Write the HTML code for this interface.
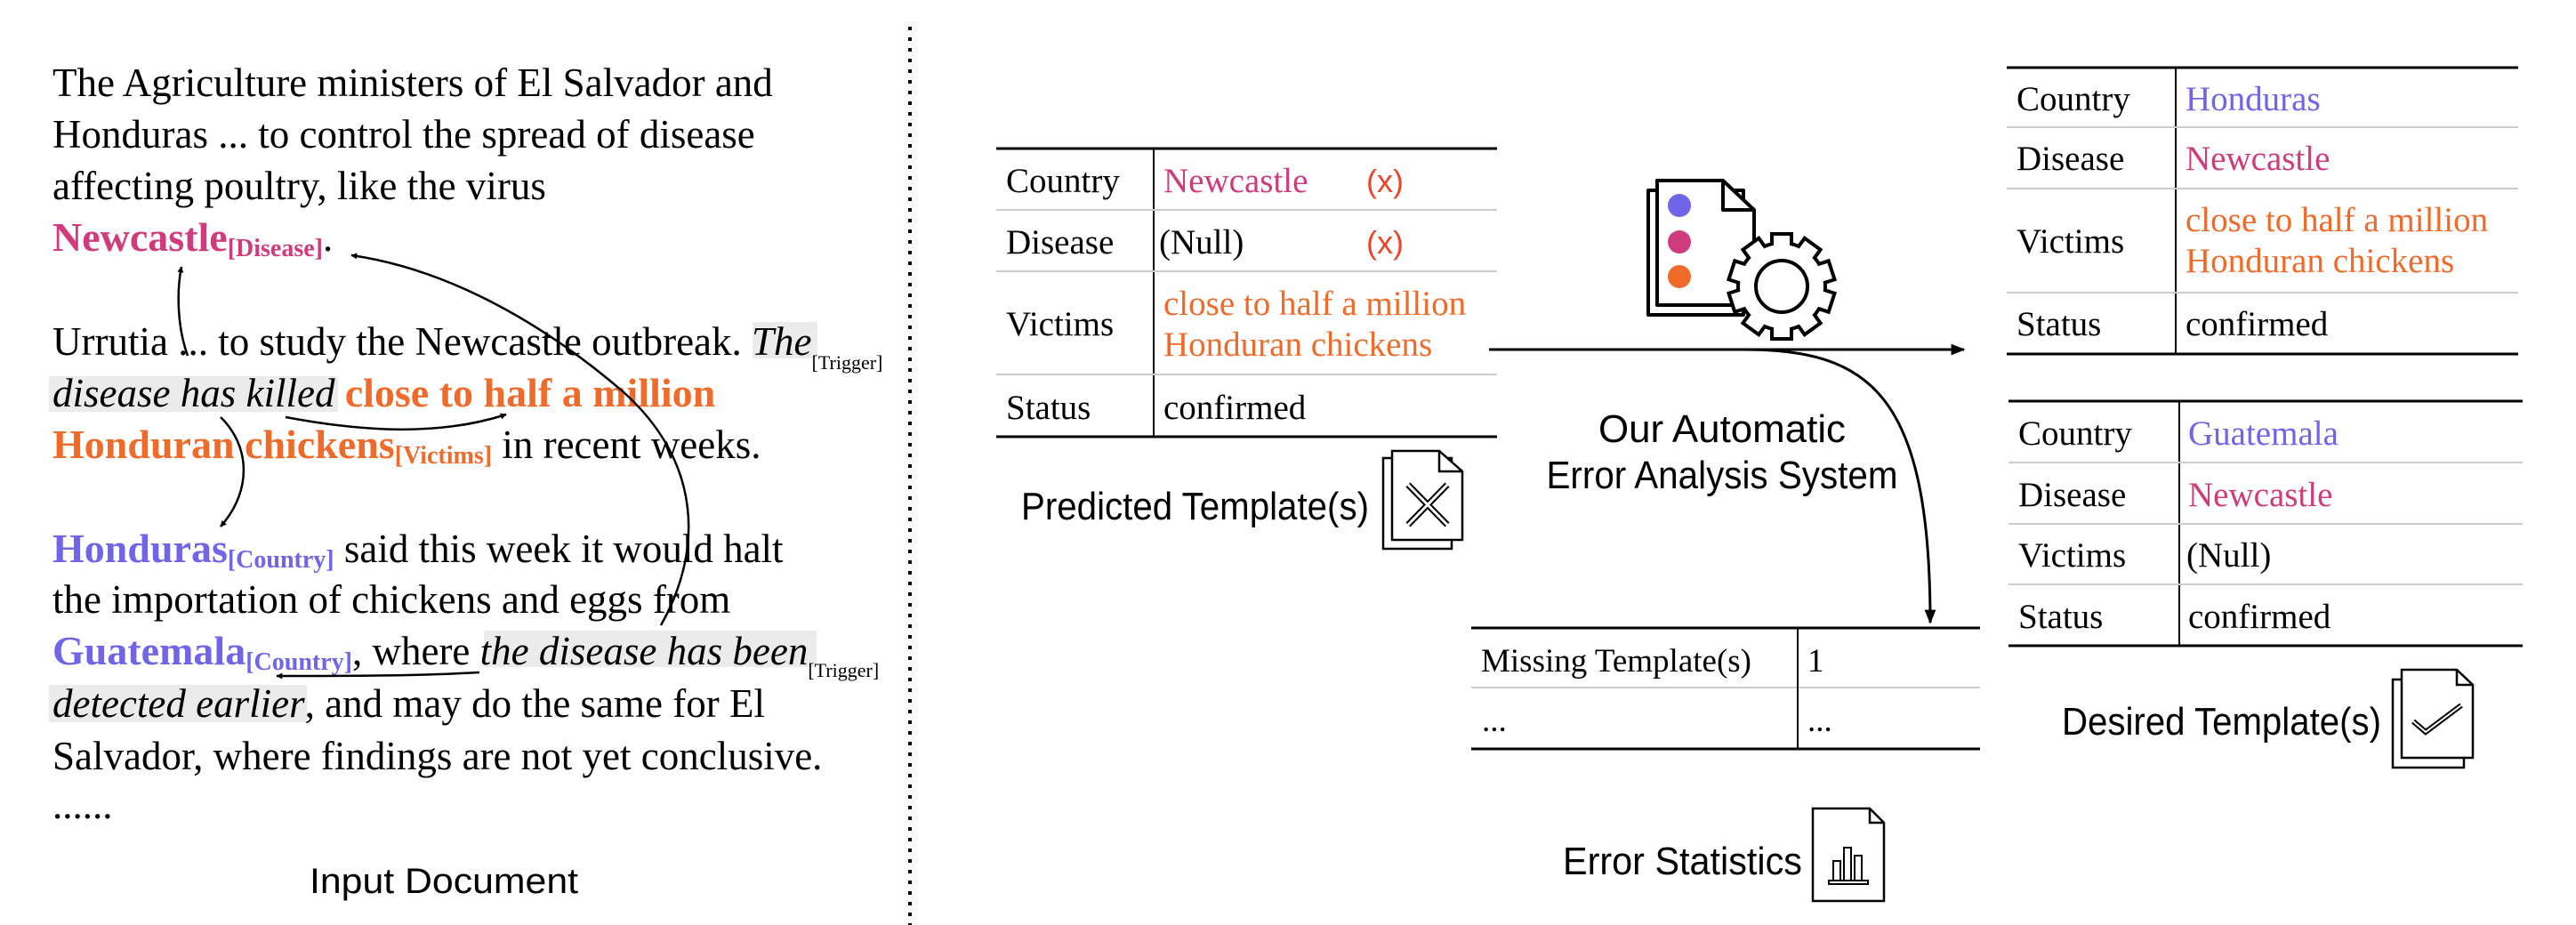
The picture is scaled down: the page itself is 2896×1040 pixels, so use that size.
<!DOCTYPE html>
<html><head><meta charset="utf-8"><style>
html,body{margin:0;padding:0;background:#fff;}
svg{display:block;}
.t{font-family:"Liberation Serif",serif;}
.s{font-family:"Liberation Sans",sans-serif;}
</style></head><body>
<svg width="2896" height="1040" viewBox="0 0 2896 1040" xmlns="http://www.w3.org/2000/svg">
<defs>
<marker id="ah" viewBox="0 0 10 10" refX="9" refY="5" markerWidth="7" markerHeight="7" orient="auto" markerUnits="userSpaceOnUse"><path d="M0,0 L10,5 L0,10 z" fill="#000"/></marker>
<marker id="ah2" viewBox="0 0 10 10" refX="9" refY="5" markerWidth="16" markerHeight="16" orient="auto" markerUnits="userSpaceOnUse"><path d="M0,1 L10,5 L0,9 z" fill="#000"/></marker>
</defs>

<g fill="#ebebeb">
<rect x="846" y="362" width="73" height="41"/>
<rect x="55" y="423" width="325" height="40"/>
<rect x="544" y="709" width="374" height="41"/>
<rect x="55" y="770" width="290" height="42"/>
</g>

<g class="t" font-size="45" fill="#000">
<text x="59" y="108">The Agriculture ministers of El Salvador and</text>
<text x="59" y="166">Honduras ... to control the spread of disease</text>
<text x="59" y="224">affecting poultry, like the virus</text>
<text x="59" y="282"><tspan font-weight="bold" fill="#cf3b7d" font-size="46">Newcastle</tspan><tspan font-weight="bold" fill="#cf3b7d" font-size="28" dy="6">[Disease]</tspan><tspan dy="-6">.</tspan></text>
<text x="59" y="399">Urrutia ... to study the Newcastle outbreak. <tspan font-style="italic">The</tspan><tspan font-size="22" dy="16">[Trigger]</tspan></text>
<text x="59" y="457"><tspan font-style="italic">disease has killed</tspan> <tspan font-weight="bold" fill="#f06a2a" font-size="46">close to half a million</tspan></text>
<text x="59" y="515"><tspan font-weight="bold" fill="#f06a2a" font-size="46">Honduran chickens</tspan><tspan font-weight="bold" fill="#f06a2a" font-size="28" dy="6">[Victims]</tspan><tspan dy="-6"> in recent weeks.</tspan></text>
<text x="59" y="632"><tspan font-weight="bold" fill="#7064e8" font-size="46">Honduras</tspan><tspan font-weight="bold" fill="#7064e8" font-size="28" dy="6">[Country]</tspan><tspan dy="-6"> said this week it would halt</tspan></text>
<text x="59" y="689">the importation of chickens and eggs from</text>
<text x="59" y="747"><tspan font-weight="bold" fill="#7064e8" font-size="46">Guatemala</tspan><tspan font-weight="bold" fill="#7064e8" font-size="28" dy="6">[Country]</tspan><tspan dy="-6">, where </tspan><tspan font-style="italic">the disease has been</tspan><tspan font-size="22" dy="14">[Trigger]</tspan></text>
<text x="59" y="806"><tspan font-style="italic">detected earlier</tspan>, and may do the same for El</text>
<text x="59" y="865">Salvador, where findings are not yet conclusive.</text>
<text x="59" y="920">......</text>
</g>
<text class="s" x="348" y="1004" font-size="40" textLength="302" lengthAdjust="spacingAndGlyphs">Input Document</text>

<g fill="none" stroke="#000" stroke-width="2.5">
<path d="M211,400 C200,370 198,330 204,300" marker-end="url(#ah)"/>
<path d="M743,703 C790,620 790,520 700,440 C630,380 520,305 395,287" marker-end="url(#ah)"/>
<path d="M321,469 C380,480 480,495 569,466" marker-end="url(#ah)"/>
<path d="M248,469 C280,500 285,550 248,592" marker-end="url(#ah)"/>
<path d="M539,756 C470,760 380,760 311,760" marker-end="url(#ah)"/>
</g>

<line x1="1023" y1="30" x2="1023" y2="1040" stroke="#000" stroke-width="4" stroke-dasharray="4,8"/>

<g stroke-width="3">
<line x1="1120" y1="167" x2="1683" y2="167" stroke="#000"/>
<line x1="1120" y1="491" x2="1683" y2="491" stroke="#000"/>
<line x1="1297" y1="167" x2="1297" y2="491" stroke="#000" stroke-width="2"/>
<line x1="1120" y1="236" x2="1683" y2="236" stroke="#ccc" stroke-width="2"/>
<line x1="1120" y1="305" x2="1683" y2="305" stroke="#ccc" stroke-width="2"/>
<line x1="1120" y1="421" x2="1683" y2="421" stroke="#ccc" stroke-width="2"/>
</g>
<g class="t" font-size="39">
<text x="1131" y="216">Country</text>
<text x="1131" y="285">Disease</text>
<text x="1131" y="377">Victims</text>
<text x="1131" y="471">Status</text>
<text x="1308" y="216" fill="#cf3b7d">Newcastle</text>
<text x="1303" y="285">(Null)</text>
<text x="1308" y="354" fill="#f06a2a">close to half a million</text>
<text x="1308" y="400" fill="#f06a2a">Honduran chickens</text>
<text x="1308" y="471">confirmed</text>
</g>
<g class="s" font-size="36" fill="#e8452c">
<text x="1536" y="216">(x)</text>
<text x="1536" y="285">(x)</text>
</g>
<text class="s" x="1148" y="584" font-size="44" textLength="391" lengthAdjust="spacingAndGlyphs">Predicted Template(s)</text>
<g fill="#fff" stroke="#000" stroke-width="2.5">
<path d="M1555,515 L1555,617 L1632,617 L1632,515 z"/>
<path d="M1565,507 L1618,507 L1644,530 L1644,607 L1565,607 z"/>
<path d="M1618,507 L1618,530 L1644,530" fill="none"/>
<path d="M1583,545 L1627,590 M1627,545 L1583,590" stroke-width="7"/>
<path d="M1583,545 L1627,590 M1627,545 L1583,590" stroke="#fff" stroke-width="3"/>
</g>

<g fill="#fff" stroke="#000" stroke-width="4" stroke-linejoin="round">
<path d="M1853,214 L1853,354 L1960,354 L1960,214 z"/>
<path d="M1863,203 L1937,203 L1972,236 L1972,343 L1863,343 z"/>
<path d="M1937,203 L1937,236 L1972,236" fill="none"/>
</g>
<circle cx="1888" cy="231" r="13" fill="#7064e8"/>
<circle cx="1888" cy="272" r="13" fill="#cf3b7d"/>
<circle cx="1888" cy="311" r="13" fill="#f06a2a"/>
<g transform="translate(2003,322)">
<g stroke="#000" stroke-width="8" fill="#000">
<circle r="47"/>
<rect x="-9" y="-57" width="18" height="20" transform="rotate(0)"/>
<rect x="-9" y="-57" width="18" height="20" transform="rotate(36)"/>
<rect x="-9" y="-57" width="18" height="20" transform="rotate(72)"/>
<rect x="-9" y="-57" width="18" height="20" transform="rotate(108)"/>
<rect x="-9" y="-57" width="18" height="20" transform="rotate(144)"/>
<rect x="-9" y="-57" width="18" height="20" transform="rotate(180)"/>
<rect x="-9" y="-57" width="18" height="20" transform="rotate(216)"/>
<rect x="-9" y="-57" width="18" height="20" transform="rotate(252)"/>
<rect x="-9" y="-57" width="18" height="20" transform="rotate(288)"/>
<rect x="-9" y="-57" width="18" height="20" transform="rotate(324)"/>
</g>
<g fill="#fff">
<circle r="47"/>
<rect x="-9" y="-57" width="18" height="20" transform="rotate(0)"/>
<rect x="-9" y="-57" width="18" height="20" transform="rotate(36)"/>
<rect x="-9" y="-57" width="18" height="20" transform="rotate(72)"/>
<rect x="-9" y="-57" width="18" height="20" transform="rotate(108)"/>
<rect x="-9" y="-57" width="18" height="20" transform="rotate(144)"/>
<rect x="-9" y="-57" width="18" height="20" transform="rotate(180)"/>
<rect x="-9" y="-57" width="18" height="20" transform="rotate(216)"/>
<rect x="-9" y="-57" width="18" height="20" transform="rotate(252)"/>
<rect x="-9" y="-57" width="18" height="20" transform="rotate(288)"/>
<rect x="-9" y="-57" width="18" height="20" transform="rotate(324)"/>
</g>
<circle r="29" fill="none" stroke="#000" stroke-width="4"/>
</g>

<g fill="none" stroke="#000" stroke-width="3">
<line x1="1674" y1="393" x2="2208" y2="393" marker-end="url(#ah2)"/>
<path d="M1960,393 C2100,393 2170,440 2170,700" marker-end="url(#ah2)"/>
</g>
<text class="s" x="1936" y="497" font-size="44" text-anchor="middle" textLength="278" lengthAdjust="spacingAndGlyphs">Our Automatic</text>
<text class="s" x="1936" y="549" font-size="44" text-anchor="middle" textLength="395" lengthAdjust="spacingAndGlyphs">Error Analysis System</text>

<line x1="1654" y1="706" x2="2226" y2="706" stroke="#000" stroke-width="3"/>
<line x1="1654" y1="842" x2="2226" y2="842" stroke="#000" stroke-width="3"/>
<line x1="1654" y1="773" x2="2226" y2="773" stroke="#ccc" stroke-width="2"/>
<line x1="2021" y1="706" x2="2021" y2="842" stroke="#000" stroke-width="2"/>
<g class="t" font-size="37">
<text x="1665" y="755">Missing Template(s)</text>
<text x="2032" y="755">1</text>
<text x="1666" y="822">...</text>
<text x="2032" y="822">...</text>
</g>
<text class="s" x="1757" y="983" font-size="44" textLength="269" lengthAdjust="spacingAndGlyphs">Error Statistics</text>
<g fill="#fff" stroke="#000" stroke-width="2.5">
<path d="M2038,909 L2102,909 L2118,925 L2118,1013 L2038,1013 z"/>
<path d="M2102,909 L2102,925 L2118,925" fill="none"/>
<path d="M2056,990 L2100,990 L2100,994 L2056,994 z" stroke-width="2"/>
<rect x="2061" y="968" width="8" height="22" stroke-width="2"/>
<rect x="2073" y="953" width="8" height="37" stroke-width="2"/>
<rect x="2085" y="962" width="8" height="28" stroke-width="2"/>
</g>

<g>
<line x1="2256" y1="76" x2="2831" y2="76" stroke="#000" stroke-width="3"/>
<line x1="2256" y1="398" x2="2831" y2="398" stroke="#000" stroke-width="3"/>
<line x1="2446" y1="76" x2="2446" y2="398" stroke="#000" stroke-width="2"/>
<line x1="2256" y1="143" x2="2831" y2="143" stroke="#ccc" stroke-width="2"/>
<line x1="2256" y1="212" x2="2831" y2="212" stroke="#ccc" stroke-width="2"/>
<line x1="2256" y1="329" x2="2831" y2="329" stroke="#ccc" stroke-width="2"/>
<line x1="2258" y1="451" x2="2836" y2="451" stroke="#000" stroke-width="3"/>
<line x1="2258" y1="726" x2="2836" y2="726" stroke="#000" stroke-width="3"/>
<line x1="2450" y1="451" x2="2450" y2="726" stroke="#000" stroke-width="2"/>
<line x1="2258" y1="520" x2="2836" y2="520" stroke="#ccc" stroke-width="2"/>
<line x1="2258" y1="589" x2="2836" y2="589" stroke="#ccc" stroke-width="2"/>
<line x1="2258" y1="657" x2="2836" y2="657" stroke="#ccc" stroke-width="2"/>
</g>
<g class="t" font-size="39">
<text x="2267" y="124">Country</text>
<text x="2267" y="191">Disease</text>
<text x="2267" y="284">Victims</text>
<text x="2267" y="377">Status</text>
<text x="2457" y="124" fill="#7064e8">Honduras</text>
<text x="2457" y="191" fill="#cf3b7d">Newcastle</text>
<text x="2457" y="260" fill="#f06a2a">close to half a million</text>
<text x="2457" y="306" fill="#f06a2a">Honduran chickens</text>
<text x="2457" y="377">confirmed</text>
<text x="2269" y="500">Country</text>
<text x="2269" y="569">Disease</text>
<text x="2269" y="637">Victims</text>
<text x="2269" y="706">Status</text>
<text x="2460" y="500" fill="#7064e8">Guatemala</text>
<text x="2460" y="569" fill="#cf3b7d">Newcastle</text>
<text x="2458" y="637">(Null)</text>
<text x="2460" y="706">confirmed</text>
</g>
<text class="s" x="2318" y="826" font-size="44" textLength="359" lengthAdjust="spacingAndGlyphs">Desired Template(s)</text>
<g fill="#fff" stroke="#000" stroke-width="2.5">
<path d="M2690,764 L2690,863 L2770,863 L2770,764 z"/>
<path d="M2700,753 L2762,753 L2780,770 L2780,852 L2700,852 z"/>
<path d="M2762,753 L2762,770 L2780,770" fill="none"/>
<path d="M2713,811 L2727,823 L2767,793" fill="none" stroke-width="6"/>
<path d="M2713,811 L2727,823 L2767,793" fill="none" stroke="#fff" stroke-width="2"/>
</g>
</svg>
</body></html>
